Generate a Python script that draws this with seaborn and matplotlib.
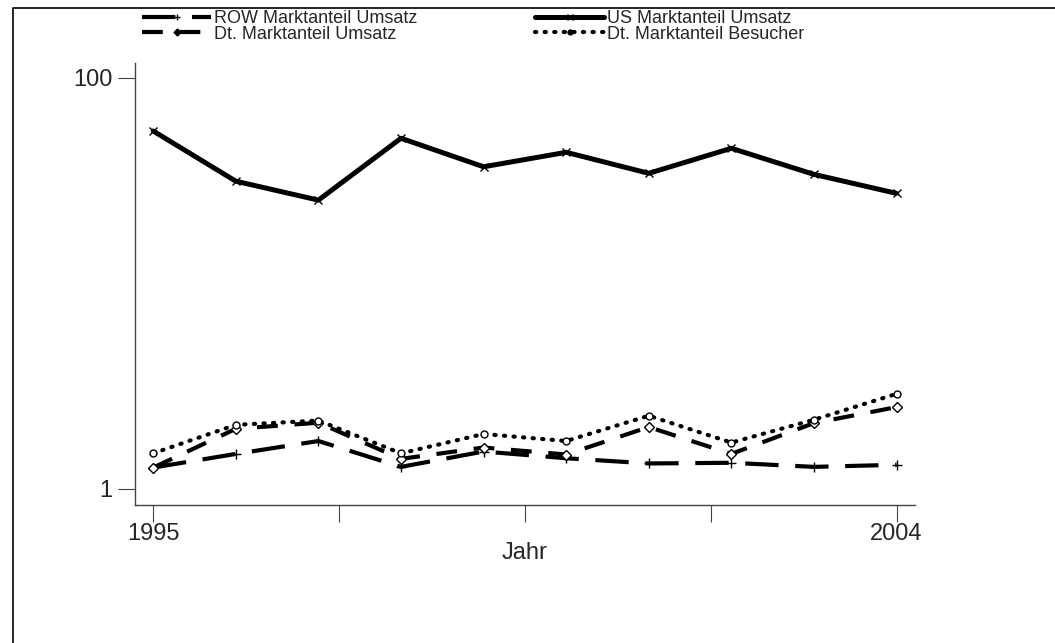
import numpy as np
import pandas as pd
import matplotlib
matplotlib.use("Agg")
import matplotlib.pyplot as plt
import seaborn as sns
from matplotlib.lines import Line2D

sns.set_theme(style="white")
plt.rcParams['font.family'] = ['Liberation Sans', 'DejaVu Sans']

# values (percent, log scale)
jahre = [1995, 1996, 1997, 1998, 1999, 2000, 2001, 2002, 2003, 2004]
us_umsatz = [55.1, 31.4, 25.4, 50.8, 36.9, 43.4, 34.3, 45.4, 33.9, 27.4]
row_umsatz = [1.27, 1.48, 1.71, 1.28, 1.52, 1.41, 1.33, 1.34, 1.28, 1.31]
dt_umsatz = [1.27, 1.96, 2.10, 1.40, 1.59, 1.47, 2.00, 1.48, 2.09, 2.50]
dt_besucher = [1.49, 2.05, 2.15, 1.49, 1.85, 1.71, 2.27, 1.68, 2.17, 2.90]

serien = ["ROW Marktanteil Umsatz", "US Marktanteil Umsatz",
          "Dt. Marktanteil Umsatz", "Dt. Marktanteil Besucher"]
df = pd.DataFrame({"Jahr": jahre, serien[0]: row_umsatz, serien[1]: us_umsatz,
                   serien[2]: dt_umsatz, serien[3]: dt_besucher})
long = df.melt(id_vars="Jahr", var_name="Serie", value_name="Anteil")

stile = {
    serien[0]: dict(ls=(0, (8, 4)), marker="+", lw=3.0, ms=7, mfc="black", cap="butt"),
    serien[1]: dict(ls="-", marker="x", lw=3.6, ms=6, mfc="black", cap="butt"),
    serien[2]: dict(ls=(0, (5, 4)), marker="D", lw=3.0, ms=5, mfc="white", cap="butt"),
    serien[3]: dict(ls=(0, (0.3, 2.0)), marker="o", lw=3.0, ms=5, mfc="white", cap="round"),
}

fig = plt.figure(figsize=(10.55, 6.43), dpi=100)
ax = fig.add_axes([0.128, 0.2146, 0.739, 0.6874])

for s in serien:
    st = stile[s]
    sns.lineplot(data=long[long["Serie"] == s], x="Jahr", y="Anteil", ax=ax,
                 color="black", linewidth=st["lw"], linestyle=st["ls"],
                 marker=st["marker"], markersize=st["ms"], markerfacecolor=st["mfc"],
                 markeredgecolor="black", markeredgewidth=1.0,
                 dash_capstyle=st["cap"], legend=False)

ax.set_yscale("log")
ax.set_ylim(0.835, 118)
ax.set_xlim(1994.78, 2004.22)
ax.set_yticks([1, 100])
ax.set_yticklabels(["1", "100"])
ax.yaxis.set_minor_locator(matplotlib.ticker.NullLocator())
xt = np.linspace(1995, 2004, 5)
ax.set_xticks(xt)
ax.set_xticklabels(["1995", "", "", "", "2004"])
ax.tick_params(axis="both", which="major", length=12, width=0.8, color="#444444",
               labelsize=17, direction="out", bottom=True, left=True)
ax.tick_params(axis="x", pad=1)
ax.tick_params(axis="y", pad=4)
ax.set_xlabel("Jahr", fontsize=17, labelpad=-2)
ax.set_ylabel("")
ax.spines["top"].set_visible(False)
ax.spines["right"].set_visible(False)
for sp in ("left", "bottom"):
    ax.spines[sp].set_color("#444444")
    ax.spines[sp].set_linewidth(1.0)

handles = []
for s in serien:
    st = stile[s]
    handles.append(Line2D([], [], color="black", linewidth=st["lw"], linestyle=st["ls"],
                          marker=st["marker"], markersize=st["ms"] * 0.7,
                          markerfacecolor="black", markeredgecolor="black",
                          dash_capstyle=st["cap"]))
# legend rows: ROW, US / Dt Umsatz, Dt Besucher
order = [0, 2, 1, 3]
fig.legend([handles[i] for i in order], [serien[i] for i in order], ncol=2,
           loc="upper left", bbox_to_anchor=(0.128, 0.995), frameon=False,
           fontsize=13, handlelength=3.8, handletextpad=0.15, columnspacing=6.55,
           labelspacing=-0.1, borderaxespad=0, numpoints=1)

# outer frame of the graph region
fig.add_artist(Line2D([13 / 1055, 13 / 1055, 1.0], [0.0, 1 - 8 / 643, 1 - 8 / 643],
                      transform=fig.transFigure, color="black", linewidth=1.2))

fig.savefig("out.png", dpi=100, facecolor="white")
